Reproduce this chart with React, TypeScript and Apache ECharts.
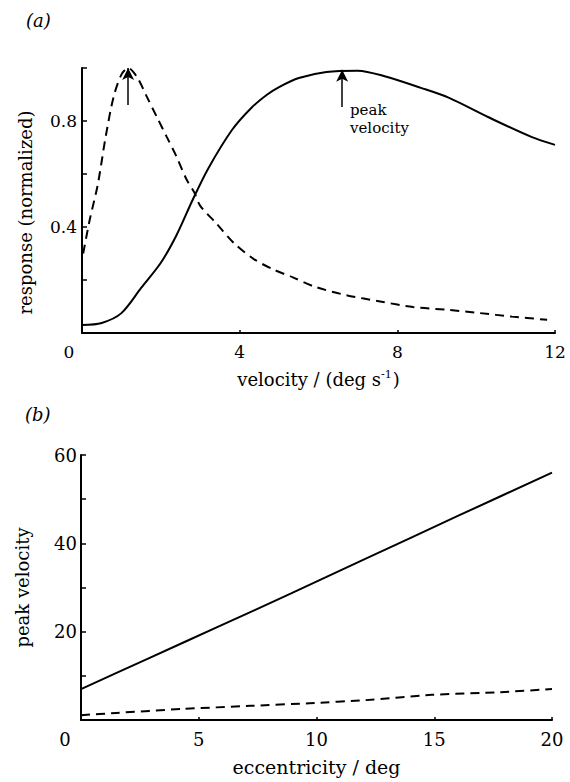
import React, { useEffect, useRef } from "react";
import * as echarts from "echarts";

// Panel (a): normalized response vs velocity
const solidVel = [0, 0.5, 1.0, 1.5, 2.0, 2.4, 2.8, 3.2, 3.8, 4.3, 4.7, 5.0, 5.5, 6.2, 7.0, 7.7, 8.6, 9.3, 10.3, 11.4, 12];
const solidResp = [0.03, 0.038, 0.075, 0.17, 0.265, 0.37, 0.5, 0.62, 0.765, 0.85, 0.9, 0.928, 0.962, 0.985, 0.99, 0.968, 0.925, 0.888, 0.815, 0.74, 0.71];
const dashVel = [0.03, 0.2, 0.4, 0.6, 0.8, 1.0, 1.17, 1.4, 1.65, 1.9, 2.15, 2.4, 2.65, 2.85, 3.0, 3.4, 3.85, 4.35, 4.85, 5.35, 5.9, 6.7, 7.6, 8.4, 9.3, 10.1, 10.9, 11.8];
const dashResp = [0.3, 0.43, 0.56, 0.74, 0.89, 0.975, 1.0, 0.965, 0.89, 0.815, 0.74, 0.665, 0.58, 0.53, 0.48, 0.415, 0.34, 0.28, 0.24, 0.21, 0.175, 0.143, 0.118, 0.098, 0.087, 0.075, 0.062, 0.05];
const peakSolid = 6.6;
const peakDash = 1.17;
const aYLabels = [0.4, 0.8];
const aXTicks = [0, 4, 8, 12];

// Panel (b): peak velocity vs eccentricity
const solidEcc = [0, 2.8, 5.9, 8.9, 12, 16, 20];
const solidPeak = [7, 13.8, 21.3, 28.6, 36.3, 46.2, 56];
const dashEcc = [0, 1.5, 4.3, 7.2, 9.7, 12.1, 14.9, 17.8, 20];
const dashPeak = [1.1, 1.6, 2.5, 3.2, 3.8, 4.5, 5.7, 6.3, 7.0];
const bYLabels = [20, 40, 60];

const FONT = "DejaVu Serif";
const zip = (a: number[], b: number[]) => a.map((x, i) => [x, b[i]]);

export default function App() {
  const ref = useRef<HTMLDivElement>(null);
  useEffect(() => {
    if (!ref.current) return;
    const chart = echarts.init(ref.current, undefined, { renderer: "svg" });
    const axisLine = { lineStyle: { color: "#000", width: 2 } };
    const zeroRich = { z: { fontFamily: FONT, fontSize: 17, color: "#000", padding: [0, 26, 0, 0] } };
    chart.setOption({
      animation: false,
      backgroundColor: "#fff",
      grid: [
        { left: 82, top: 68, width: 473, height: 265 },
        { left: 81, top: 455, width: 471, height: 265 },
      ],
      xAxis: [
        {
          gridIndex: 0, type: "value", min: 0, max: 12, interval: 4,
          axisLine, splitLine: { show: false },
          axisTick: { show: true, inside: true, length: 3, lineStyle: { color: "#000", width: 1.5 } },
          axisLabel: {
            fontFamily: FONT, fontSize: 17, color: "#000", margin: 10,
            formatter: (v: number) => (aXTicks.includes(v) ? (v === 0 ? "{z|0}" : String(v)) : ""),
            rich: zeroRich,
          },
          name: "velocity / (deg s{sup|-1})",
          nameLocation: "middle", nameGap: 36,
          nameTextStyle: {
            fontFamily: FONT, fontSize: 18, color: "#000",
            rich: { sup: { fontFamily: FONT, fontSize: 11, color: "#000", verticalAlign: "bottom", padding: [0, 1, 9, 0] } },
          },
        },
        {
          gridIndex: 1, type: "value", min: 0, max: 20, interval: 5,
          axisLine, splitLine: { show: false },
          axisTick: { show: true, inside: true, length: 3, lineStyle: { color: "#000", width: 1.5 } },
          axisLabel: {
            fontFamily: FONT, fontSize: 18, color: "#000", margin: 10,
            formatter: (v: number) => (v === 0 ? "{z|0}" : String(v)),
            rich: { z: { ...zeroRich.z, fontSize: 18, padding: [0, 32, 0, 0] } },
          },
          name: "eccentricity / deg",
          nameLocation: "middle", nameGap: 37,
          nameTextStyle: { fontFamily: FONT, fontSize: 19, color: "#000" },
        },
      ],
      yAxis: [
        {
          gridIndex: 0, type: "value", min: 0, max: 1, interval: 0.2,
          axisLine, splitLine: { show: false },
          axisTick: { show: true, inside: true, length: 5, lineStyle: { color: "#000", width: 1.5 } },
          axisLabel: {
            fontFamily: FONT, fontSize: 17, color: "#000", margin: 5,
            formatter: (v: number) => (aYLabels.some((t) => Math.abs(t - v) < 1e-6) ? String(v) : ""),
          },
          name: "response (normalized)",
          nameLocation: "middle", nameGap: 48, nameRotate: 90,
          nameTextStyle: { fontFamily: FONT, fontSize: 18, color: "#000", padding: [0, 24, 0, 0] },
        },
        {
          gridIndex: 1, type: "value", min: 0, max: 60, interval: 10,
          axisLine, splitLine: { show: false },
          axisTick: { show: true, inside: true, length: 5, lineStyle: { color: "#000", width: 1.5 } },
          axisLabel: {
            fontFamily: FONT, fontSize: 18, color: "#000", margin: 4,
            formatter: (v: number) => (bYLabels.includes(v) ? String(v) : ""),
          },
          name: "peak velocity",
          nameLocation: "middle", nameGap: 50, nameRotate: 90,
          nameTextStyle: { fontFamily: FONT, fontSize: 18, color: "#000" },
        },
      ],
      series: [
        {
          type: "line", xAxisIndex: 0, yAxisIndex: 0, data: zip(solidVel, solidResp),
          smooth: 0.3, showSymbol: false, lineStyle: { color: "#000", width: 2 },
          markLine: {
            silent: true, symbol: ["none", "arrow"], symbolSize: [9, 12],
            label: { show: false },
            lineStyle: { color: "#000", width: 1.5, type: "solid" },
            data: [
              [{ coord: [peakSolid, 0.853] }, { coord: [peakSolid, 0.993] }],
              [{ coord: [peakDash, 0.86] }, { coord: [peakDash, 1.0] }],
            ],
          },
        },
        {
          type: "line", xAxisIndex: 0, yAxisIndex: 0, data: zip(dashVel, dashResp),
          smooth: 0.3, showSymbol: false, lineStyle: { color: "#000", width: 2, type: [9, 6] },
        },
        {
          type: "line", xAxisIndex: 1, yAxisIndex: 1, data: zip(solidEcc, solidPeak),
          smooth: 0.2, showSymbol: false, lineStyle: { color: "#000", width: 2 },
        },
        {
          type: "line", xAxisIndex: 1, yAxisIndex: 1, data: zip(dashEcc, dashPeak),
          smooth: 0.2, showSymbol: false, lineStyle: { color: "#000", width: 2, type: [9, 6] },
        },
      ],
      graphic: [
        { type: "text", left: 26, top: 11, style: { text: "(a)", fontFamily: FONT, fontStyle: "italic", fontSize: 18, fill: "#000" } },
        { type: "text", left: 25, top: 405, style: { text: "(b)", fontFamily: FONT, fontStyle: "italic", fontSize: 18, fill: "#000" } },
        { type: "text", left: 350, top: 101, style: { text: "peak\nvelocity", fontFamily: FONT, fontSize: 15, lineHeight: 18, fill: "#000" } },
      ],
    });
    return () => chart.dispose();
  }, []);
  return <div ref={ref} style={{ position: "fixed", left: 0, top: 0, width: 570, height: 782 }} />;
}
